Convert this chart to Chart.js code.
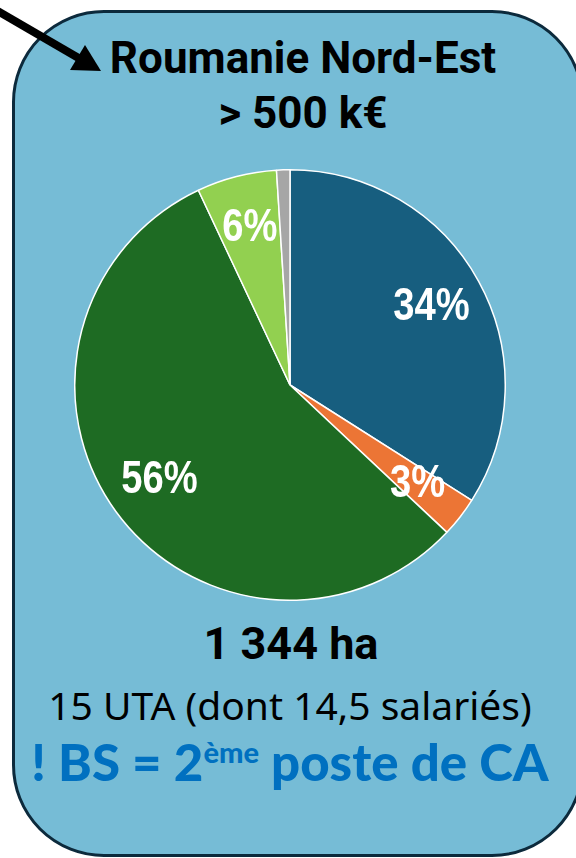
<!DOCTYPE html>
<html>
<head>
<meta charset="utf-8">
<script src="https://cdn.jsdelivr.net/npm/chart.js@4.4.1/dist/chart.umd.min.js"></script>
<style>
  html, body { margin: 0; padding: 0; background: #fff; }
  body { width: 576px; height: 858px; position: relative; overflow: hidden; font-family: Roboto, "Liberation Sans", sans-serif; }
  #box {
    position: absolute; left: 12px; top: 10px; width: 572px; height: 847px;
    background: #76bcd6; border: 3px solid #0c2a3c; border-radius: 92px;
    box-sizing: border-box;
  }
  .t { position: absolute; left: 0; width: 100%; text-align: center; white-space: nowrap; }
  #title { top: 31px; left: 15px; font-weight: bold; font-size: 44px; line-height: 55px; color: #000; }
  #ha { top: 617px; left: 3px; font-weight: bold; font-size: 45px; color: #000; }
  #uta { top: 678px; left: 2px; font-size: 39px; color: #000; font-family: "Noto Sans", Roboto, sans-serif; }
  #bs { top: 731px; left: 2px; font-weight: 900; font-size: 51px; color: #0070c0; font-family: Lato, "Noto Sans", sans-serif; }
  #bs sup { font-size: 29px; vertical-align: 18px; }
  #wrap { position: absolute; left: 74px; top: 169px; width: 432px; height: 432px; }
  #arrow { position: absolute; left: 0; top: 0; }
</style>
</head>
<body>
<div id="box"></div>
<div class="t" id="title">Roumanie Nord-Est<br>&gt; 500 k€</div>
<div id="wrap"><canvas id="pie"></canvas></div>
<div class="t" id="ha">1 344 ha</div>
<div class="t" id="uta">15 UTA (dont 14,5 salariés)</div>
<div class="t" id="bs">! BS = 2<sup>ème</sup> poste de CA</div>
<svg id="arrow" width="120" height="90">
  <line x1="-4" y1="10" x2="82" y2="60" stroke="#000" stroke-width="8"/>
  <polygon points="101,71 70,70 85,45" fill="#000"/>
</svg>
<script>
// parts of the pie (%)
var categories = ['Bleu', 'Orange', 'Vert foncé', 'Vert clair', 'Gris'];
var values = [34, 3, 56, 6, 1];
var labels = ['34%', '3%', '56%', '6%', ''];
var colors = ['#175e7f', '#ec7535', '#1e6b23', '#92d050', '#a6a6a6'];

// draws the percentage labels inside the slices (narrow bold look)
var pieLabels = {
    id: 'pieLabels',
    afterDatasetsDraw: function (chart) {
        var ctx = chart.ctx;
        var arcs = chart.getDatasetMeta(0).data;
        ctx.save();
        ctx.fillStyle = '#fff';
        ctx.font = 'bold 46px "Liberation Sans", Arial, sans-serif';
        ctx.textAlign = 'center';
        ctx.textBaseline = 'middle';
        arcs.forEach(function (arc, i) {
            if (!labels[i]) return;
            var p = arc.getProps(['x', 'y', 'startAngle', 'endAngle', 'outerRadius'], true);
            var mid = (p.startAngle + p.endAngle) / 2;
            var r = p.outerRadius * 0.75;
            ctx.save();
            ctx.translate(p.x + Math.cos(mid) * r, p.y + Math.sin(mid) * r);
            ctx.scale(0.83, 1);
            ctx.fillText(labels[i], 0, 0);
            ctx.restore();
        });
        ctx.restore();
    }
};

new Chart(document.getElementById('pie'), {
    type: 'pie',
    data: {
        labels: categories,
        datasets: [{
            data: values,
            backgroundColor: colors,
            borderColor: '#ffffff',
            borderWidth: 1.5
        }]
    },
    options: {
        responsive: true,
        maintainAspectRatio: false,
        animation: false,
        layout: { padding: 0 },
        plugins: {
            legend: { display: false },
            tooltip: { enabled: false }
        }
    },
    plugins: [pieLabels]
});
</script>
</body>
</html>
